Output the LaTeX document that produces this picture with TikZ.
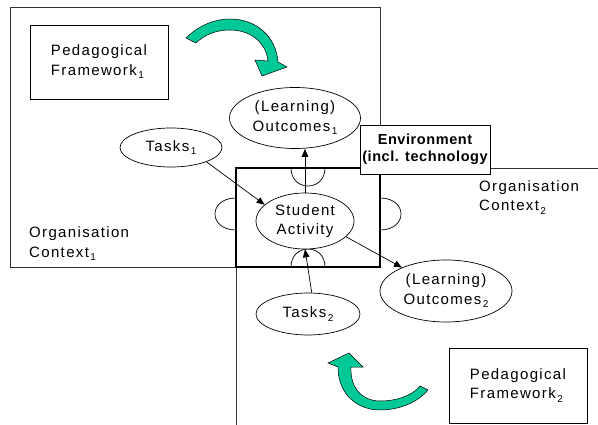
\documentclass[tikz,border=0pt]{standalone}
\usepackage{fontspec}
\setmainfont{Liberation Sans}[LetterSpace=9]
\newfontfamily\envfont{Liberation Sans}[LetterSpace=4]
\usetikzlibrary{arrows.meta,shapes.geometric}
\definecolor{greenarrow}{RGB}{0,200,150}
\newcommand\lowidx[1]{\kern1.5pt\raisebox{-3.5pt}{\fontsize{10}{10}\selectfont #1}}
\tikzset{
  lbl/.style={font=\fontsize{15}{19.5}\selectfont, align=center, inner sep=0pt},
  ell/.style={draw, ellipse, fill=white, line width=0.7pt, inner sep=0pt, lbl},
  framebox/.style={draw, rectangle, line width=0.8pt, fill=white, inner sep=0pt, lbl},
  envbox/.style={draw, rectangle, line width=0.8pt, fill=white, inner sep=0pt, align=center,
    font={\envfont\bfseries\fontsize{14.5}{16.5}\selectfont}},
  conn/.style={-{Triangle[length=8pt,width=6.5pt]}, line width=0.7pt},
  regionline/.style={line width=0.8pt, draw=black!80},
  innerline/.style={line width=1.4pt},
  notch/.style={line width=0.7pt},
  curvearrow/.style={fill=greenarrow, draw=black, line width=0.5pt}
}
\begin{document}
\begin{tikzpicture}[x=1pt, y=-1pt]
\useasboundingbox (0,0) rectangle (598,425);
% organisation contexts
\draw[regionline] (10,7) rectangle (380,267);
\draw[regionline] (598,168) -- (236,168) -- (236,425);
% environment box with notches
\draw[innerline] (236,168) rectangle (380,267);
\draw[notch] (291,168) .. controls (291,192) and (325,192) .. (325,168);
\draw[notch] (291,267) .. controls (291,243) and (325,243) .. (325,267);
\draw[notch] (236,198) .. controls (208,198) and (208,230) .. (236,230);
\draw[notch] (380,198) .. controls (408,198) and (408,230) .. (380,230);
\node[envbox, minimum width=130pt, minimum height=49pt] (env) at (425,149.5)
  {Environment\\(incl. technology};
% boxes
\node[framebox, minimum width=138pt, minimum height=74pt, align=left] (pf1) at (99,62)
  {Pedagogical\\Framework\lowidx{1}};
\node[framebox, minimum width=138pt, minimum height=75pt, align=left] (pf2) at (518,385.5)
  {Pedagogical\\Framework\lowidx{2}};
% ellipses
\node[ell, minimum width=131pt, minimum height=61pt] (lo1) at (295,118) {(Learning)\\Outcomes\lowidx{1}};
\node[ell, minimum width=102pt, minimum height=39pt] (t1) at (171,147.5) {Tasks\lowidx{1}};
\node[ell, minimum width=98pt, minimum height=56pt] (sa) at (305,221) {Student\\Activity};
\node[ell, minimum width=132pt, minimum height=62pt] (lo2) at (446,291) {(Learning)\\Outcomes\lowidx{2}};
\node[ell, minimum width=104pt, minimum height=42pt] (t2) at (308,314) {Tasks\lowidx{2}};
% region labels
\node[lbl, align=left, anchor=west] (oc1) at (29,244) {Organisation\\Context\lowidx{1}};
\node[lbl, align=left, anchor=west] (oc2) at (479,197.5) {Organisation\\Context\lowidx{2}};
% connectors
\draw[conn] (t1.-22) -- (sa.158);
\draw[conn] (sa.north) -- (sa.north |- lo1.south);
\draw[conn] (sa.-21) -- (lo2.152);
\draw[conn] (t2.80) -- (sa.south);
% green curved arrows
\draw[curvearrow] (186,38) .. controls (198,26) and (214,19) .. (230,19)
  .. controls (256,19) and (276,36) .. (278,62) -- (287,67) -- (262,76) -- (255,60) -- (268,61)
  .. controls (266,42) and (250,30) .. (230,30) .. controls (216,30) and (204,35) .. (196,43) -- cycle;
\draw[curvearrow] (338,367) .. controls (338,395) and (358,410) .. (380,410)
  .. controls (400,410) and (418,402) .. (428,390) -- (420,386)
  .. controls (412,396) and (396,401) .. (380,401) .. controls (364,401) and (350,390) .. (351,367)
  -- (363,367) -- (349,353) -- (328,363) -- cycle;
\end{tikzpicture}
\end{document}
